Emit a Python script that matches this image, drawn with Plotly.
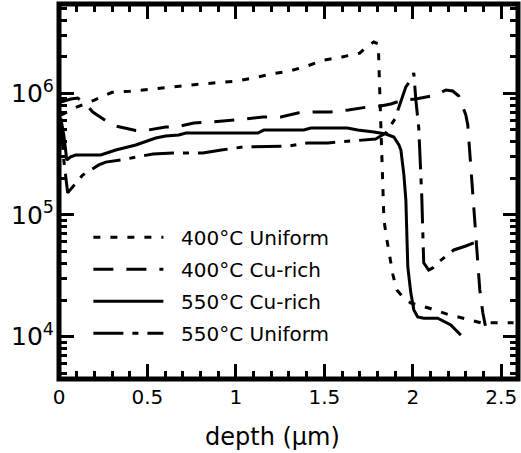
import plotly.graph_objects as go

# ---- data ----
names = ["400°C Uniform", "400°C Cu-rich", "550°C Cu-rich", "550°C Uniform"]

u400_x = [0.01, 0.05, 0.1, 0.2, 0.3, 0.4, 0.5, 0.6, 0.7, 0.8, 0.9, 1.0, 1.1, 1.2, 1.3, 1.4,
          1.5, 1.6, 1.7, 1.75, 1.78, 1.805, 1.815, 1.826, 1.837, 1.854, 1.871, 1.888,
          1.91, 1.96, 1.99, 2.09, 2.19, 2.29, 2.385, 2.48, 2.57]
u400_y = [6.6e5, 7.1e5, 7.7e5, 8.8e5, 1.02e6, 1.04e6, 1.08e6, 1.12e6, 1.15e6, 1.19e6, 1.23e6,
          1.26e6, 1.34e6, 1.44e6, 1.52e6, 1.67e6, 1.88e6, 1.99e6, 2.14e6, 2.49e6, 2.64e6,
          2.55e6, 8.8e5, 2.34e5, 9.1e4, 6.24e4, 4.44e4, 3.21e4, 2.42e4, 2.0e4, 1.89e4,
          1.72e4, 1.54e4, 1.42e4, 1.30e4, 1.30e4, 1.30e4]

cu400_x = [0.01, 0.066, 0.106, 0.151, 0.191, 0.236, 0.275, 0.321, 0.366, 0.434, 0.473, 0.53,
           0.603, 0.66, 0.762, 0.858, 0.999, 1.056, 1.152, 1.254, 1.35, 1.435, 1.534, 1.636,
           1.746, 1.819, 1.876, 1.944, 2.017, 2.13, 2.187, 2.226, 2.26, 2.283, 2.30, 2.311,
           2.322, 2.334, 2.351, 2.368, 2.379, 2.396, 2.413]
cu400_y = [8.48e5, 8.98e5, 9.15e5, 8.17e5, 7.02e5, 6.39e5, 5.81e5, 5.39e5, 5.19e5, 4.95e5,
           4.90e5, 5.09e5, 5.29e5, 5.29e5, 5.70e5, 5.81e5, 6.04e5, 6.15e5, 6.39e5, 6.39e5,
           6.89e5, 7.02e5, 7.02e5, 7.29e5, 7.72e5, 7.87e5, 8.17e5, 8.81e5, 8.98e5, 9.68e5,
           1.065e6, 1.045e6, 9.5e5, 7.72e5, 6.64e5, 5.50e5, 3.42e5, 1.77e5, 9.1e4, 4.27e4,
           2.42e4, 1.57e4, 1.18e4]

cu550_x = [0.01, 0.027, 0.044, 0.066, 0.094, 0.236, 0.321, 0.434, 0.547, 0.603, 0.677, 0.717,
           1.124, 1.158, 1.384, 1.424, 1.63, 1.689, 1.78, 1.848, 1.893, 1.922, 1.933, 1.95,
           1.961, 1.967, 1.972, 1.989, 2.006, 2.028, 2.062, 2.141, 2.215, 2.272]
cu550_y = [6.27e5, 4.54e5, 2.83e5, 3.0e5, 3.11e5, 3.11e5, 3.42e5, 3.76e5, 4.29e5, 4.46e5,
           4.54e5, 4.72e5, 4.72e5, 4.99e5, 4.99e5, 5.19e5, 5.19e5, 4.99e5, 4.81e5, 4.63e5,
           4.37e5, 3.76e5, 3.42e5, 2.13e5, 1.33e5, 7.11e4, 3.74e4, 2.29e4, 1.66e4, 1.45e4,
           1.42e4, 1.42e4, 1.25e4, 1.03e4]

u550_x = [0.01, 0.027, 0.049, 0.094, 0.134, 0.225, 0.264, 0.349, 0.434, 0.53, 0.643, 0.813,
          0.918, 1.039, 1.299, 1.406, 1.52, 1.689, 1.79, 1.848, 1.899, 1.961, 2.0, 2.006,
          2.017, 2.034, 2.04, 2.045, 2.051, 2.057, 2.062, 2.09, 2.113, 2.147, 2.232, 2.30,
          2.345]
u550_y = [6.04e5, 2.83e5, 1.52e5, 1.83e5, 2.13e5, 2.58e5, 2.72e5, 2.83e5, 3.0e5, 3.17e5,
          3.23e5, 3.23e5, 3.42e5, 3.62e5, 3.69e5, 3.91e5, 3.91e5, 4.13e5, 4.21e5, 4.72e5,
          6.15e5, 1.13e6, 1.36e6, 1.47e6, 8.98e5, 5.19e5, 3.42e5, 1.94e5, 1.41e5, 7.11e4,
          4.04e4, 3.53e4, 3.67e4, 4.11e4, 5.16e4, 5.56e4, 5.89e4]

x_title = "depth (μm)"

xs = [u400_x, cu400_x, cu550_x, u550_x]
ys = [u400_y, cu400_y, cu550_y, u550_y]
dashes = ["7px,10px", "20px,13px", "solid", "30px,9px,6px,9px"]

FONT = "DejaVu Sans"
NB = "\u00a0\u00a0"  # small gap between legend sample and its label

fig = go.Figure()
for i in range(4):
    fig.add_trace(go.Scatter(
        x=xs[i], y=ys[i], mode="lines", name=NB + names[i],
        legendgroup=f"g{i}",
        line=dict(color="black", width=3, dash=dashes[i]),
    ))

fig.add_shape(type="rect", xref="paper", yref="paper", x0=0, x1=1, y0=0, y1=1,
              line=dict(color="black", width=5), layer="above")

fig.add_annotation(text=x_title, xref="paper", yref="paper",
                   x=(272 - 59) / 458.5, y=-(437 - 379) / 375.0,
                   xanchor="center", yanchor="middle", showarrow=False,
                   font=dict(family=FONT, size=24, color="black"))

fig.update_layout(
    width=521, height=453,
    margin=dict(l=59, r=3, t=4, b=74),
    paper_bgcolor="white", plot_bgcolor="white",
    font=dict(family=FONT, size=20, color="black"),
    showlegend=True,
    legend=dict(x=0.064, y=0.43, xanchor="left", yanchor="top",
                bgcolor="rgba(0,0,0,0)", itemwidth=70, tracegroupgap=3,
                font=dict(family=FONT, size=20)),
)
fig.update_xaxes(
    range=[0, 2.595], showgrid=False, zeroline=False,
    showline=True, linecolor="black", linewidth=1, mirror="allticks",
    ticks="inside", ticklen=15, tickwidth=3, tickcolor="black", dtick=0.5, tick0=0,
    minor=dict(ticks="inside", ticklen=8, tickwidth=2.5, tickcolor="black", dtick=0.1),
    tickfont=dict(family=FONT, size=20),
)
fig.update_yaxes(
    type="log", range=[3.652, 6.734], showgrid=False, zeroline=False,
    showline=True, linecolor="black", linewidth=1, mirror="allticks",
    ticks="inside", ticklen=15, tickwidth=3, tickcolor="black", dtick=1,
    exponentformat="power",
    minor=dict(ticks="inside", ticklen=8, tickwidth=2.5, tickcolor="black", dtick="D1"),
    tickfont=dict(family=FONT, size=20),
)

fig.write_html("out.html",
               config={"displayModeBar": False},
               post_script="document.body.style.margin='0';document.body.style.overflow='hidden';")
